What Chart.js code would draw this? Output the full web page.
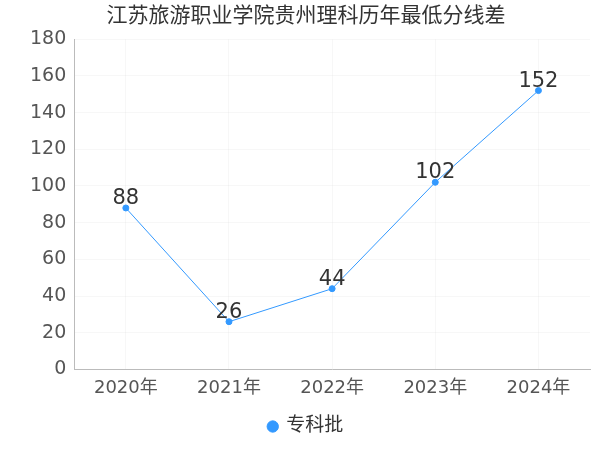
<!DOCTYPE html>
<html>
<head>
<meta charset="utf-8">
<script src="https://cdn.jsdelivr.net/npm/chart.js@4"></script>
<style>
  body { margin: 0; background: #fff; }
  #wrap { width: 600px; height: 450px; }
</style>
</head>
<body>
<div id="wrap"><canvas id="chart"></canvas></div>
<script>
const years = ['2020年', '2021年', '2022年', '2023年', '2024年'];
const scores = [88, 26, 44, 102, 152];
const seriesName = '专科批';
const titleText = '江苏旅游职业学院贵州理科历年最低分线差';
const lineColor = '#3399ff';
const fontFamily = '"DejaVu Sans", "Noto Sans CJK SC", sans-serif';

// draws the value above each point
const valueLabels = {
    id: 'valueLabels',
    afterDatasetsDraw(chart) {
        const ctx = chart.ctx;
        const meta = chart.getDatasetMeta(0);
        ctx.save();
        ctx.font = '21px ' + fontFamily;
        ctx.fillStyle = '#333';
        ctx.textAlign = 'center';
        ctx.textBaseline = 'bottom';
        meta.data.forEach((pt, i) => {
            ctx.fillText(String(scores[i]), pt.x, pt.y + 1);
        });
        ctx.restore();
    }
};

new Chart(document.getElementById('chart'), {
    type: 'line',
    data: {
        labels: years,
        datasets: [{
            label: seriesName,
            data: scores,
            borderColor: lineColor,
            backgroundColor: lineColor,
            borderWidth: 1,
            pointRadius: 3,
            pointHoverRadius: 3,
            tension: 0,
            fill: false,
        }],
    },
    options: {
        responsive: true,
        maintainAspectRatio: false,
        animation: false,
        layout: { padding: { left: 22, right: 10, top: 0, bottom: 4 } },
        plugins: {
            title: {
                display: true,
                text: titleText,
                color: '#333',
                font: { family: fontFamily, size: 21, weight: 'normal' },
                padding: { top: 4, bottom: 10 },
            },
            legend: {
                position: 'bottom',
                labels: {
                    usePointStyle: true,
                    pointStyle: 'circle',
                    color: '#333',
                    font: { family: fontFamily, size: 19 },
                    boxWidth: 8,
                    boxHeight: 8,
                },
            },
            tooltip: { enabled: false },
        },
        scales: {
            x: {
                offset: true,
                grid: { color: 'rgba(0,0,0,0.03)', drawTicks: false },
                border: { color: '#bbb' },
                ticks: { color: '#555', font: { family: fontFamily, size: 18 }, padding: 8 },
            },
            y: {
                min: 0,
                max: 180,
                grid: { color: 'rgba(0,0,0,0.03)', drawTicks: false },
                border: { color: '#bbb' },
                ticks: { stepSize: 20, color: '#555', font: { family: fontFamily, size: 19 }, padding: 8 },
            },
        },
    },
    plugins: [valueLabels],
});
</script>
</body>
</html>
